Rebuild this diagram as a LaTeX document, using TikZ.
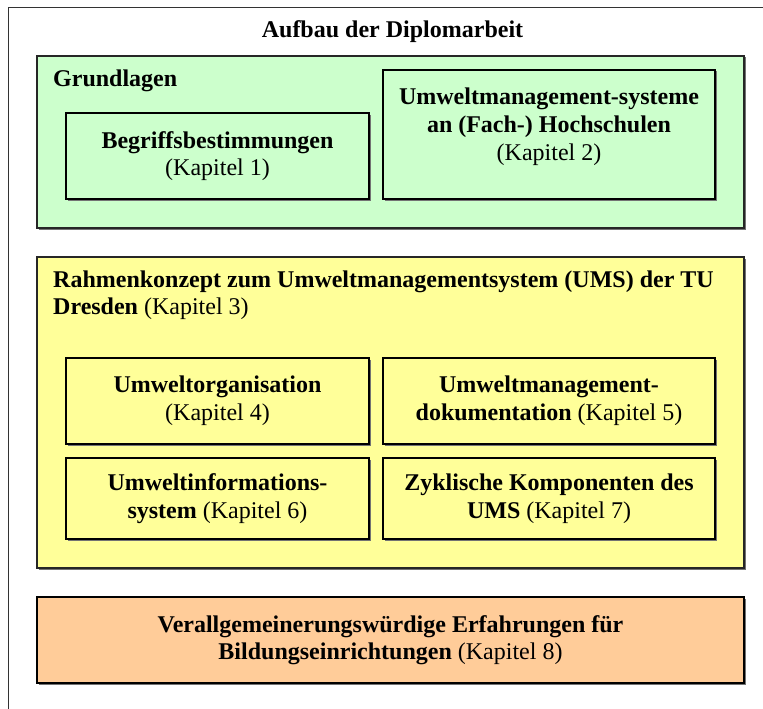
\documentclass[tikz,border=0pt]{standalone}
\usepackage{fontspec}
\setmainfont{Liberation Serif}
\usetikzlibrary{shadows}
\definecolor{grundgruen}{HTML}{CCFFCC}
\definecolor{rahmengelb}{HTML}{FFFF99}
\definecolor{fazitorange}{HTML}{FFCC99}
\begin{document}
\begin{tikzpicture}[x=1pt,y=-1pt,
  every node/.style={font=\fontsize{24}{27.6}\selectfont},
  boxshadow/.style={general shadow={fill=black!55, shadow xshift=1.5pt, shadow yshift=-1.5pt}},
  panel/.style={rectangle, draw=black!85, line width=1.2pt, inner sep=0pt, boxshadow},
  chapbox/.style={rectangle, draw=black, line width=1.2pt, inner sep=0pt, align=center, boxshadow},
  plaintext/.style={inner sep=0pt, align=left},
]
\useasboundingbox (0,0) rectangle (763,709);
\clip (0,0) rectangle (763,709);

% outer frame (runs past the page edge on the right and bottom)
\draw[line width=1.8pt, draw=black!80] (8.5,7.5) rectangle (800,740);
\node[anchor=base] (title) at (392.5,38) {\textbf{Aufbau der Diplomarbeit}};

% part 1: foundations
\node[panel, fill=grundgruen, minimum width=707, minimum height=172] (grund) at (390.5,142) {};
\node[anchor=base west, inner sep=0pt] (grundtitel) at (53,86) {\textbf{Grundlagen}};
\node[chapbox, fill=grundgruen, minimum width=303, minimum height=86] (k1) at (217.5,156)
  {\textbf{Begriffsbestimmungen}\\(Kapitel 1)};
\node[chapbox, fill=grundgruen, minimum width=332, minimum height=129] (k2) at (549,134.5) {};
\node[anchor=north, inner sep=0pt, align=center] (k2text) at (549,88)
  {\textbf{Umweltmanagement-systeme}\\\textbf{an (Fach-) Hochschulen}\\(Kapitel 2)};

% part 2: framework of the environmental management system
\node[panel, fill=rahmengelb, minimum width=707, minimum height=311] (rahmen) at (390.5,412.5) {};
\node[plaintext, anchor=north west] (rahmentitel) at (53,270.5)
  {\textbf{Rahmenkonzept zum Umweltmanagementsystem (UMS) der TU}\\\textbf{Dresden} (Kapitel 3)};
\node[chapbox, fill=rahmengelb, minimum width=303, minimum height=86] (k4) at (217.5,401)
  {\textbf{Umweltorganisation}\\(Kapitel 4)};
\node[chapbox, fill=rahmengelb, minimum width=332, minimum height=86] (k5) at (549,401)
  {\textbf{Umweltmanagement-}\\\textbf{dokumentation} (Kapitel 5)};
\node[chapbox, fill=rahmengelb, minimum width=303, minimum height=81] (k6) at (217.5,498.5)
  {\textbf{Umweltinformations-}\\\textbf{system} (Kapitel 6)};
\node[chapbox, fill=rahmengelb, minimum width=332, minimum height=81] (k7) at (549,498.5)
  {\textbf{Zyklische Komponenten des}\\\textbf{UMS} (Kapitel 7)};

% part 3: conclusions
\node[chapbox, fill=fazitorange, minimum width=707, minimum height=86] (k8) at (390.5,640)
  {\textbf{Verallgemeinerungswürdige Erfahrungen für}\\\textbf{Bildungseinrichtungen} (Kapitel 8)};
\end{tikzpicture}
\end{document}
